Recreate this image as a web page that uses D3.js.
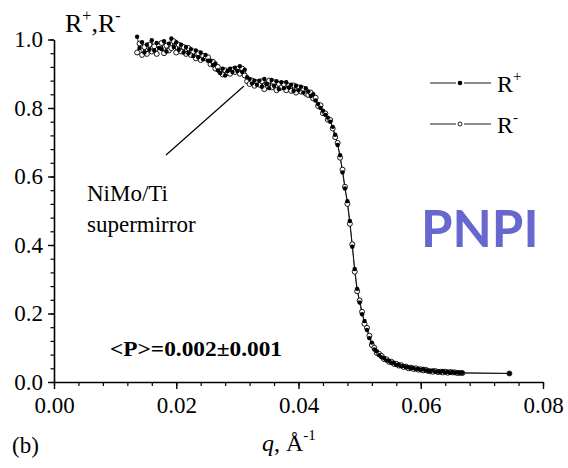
<!DOCTYPE html>
<html>
<head>
<meta charset="utf-8">
<script src="https://cdn.jsdelivr.net/npm/d3@7"></script>
<style>
  html, body { margin: 0; padding: 0; background: #fff; }
  svg { display: block; }
  text { font-family: "Liberation Serif", "Times New Roman", serif; fill: #000; }
</style>
</head>
<body>
<svg id="chart" width="568" height="468"></svg>
<script>
// Momentum transfer q (1/Å), shared by both polarisation channels
const q = [
  0.0136,0.0140,0.0144,0.0148,0.0152,0.0156,0.0160,0.0164,0.0168,0.0172,
  0.0176,0.0180,0.0184,0.0188,0.0192,0.0196,0.0200,0.0204,0.0208,0.0212,
  0.0216,0.0220,0.0224,0.0228,0.0232,0.0236,0.0240,0.0244,0.0248,0.0252,
  0.0256,0.0260,0.0264,0.0268,0.0272,0.0276,0.0280,0.0284,0.0288,0.0292,
  0.0296,0.0300,0.0304,0.0308,0.0312,0.0316,0.0320,0.0324,0.0328,0.0332,
  0.0336,0.0340,0.0344,0.0348,0.0352,0.0356,0.0360,0.0364,0.0368,0.0372,
  0.0376,0.0380,0.0384,0.0388,0.0392,0.0396,0.0400,0.0404,0.0408,0.0412,
  0.0416,0.0420,0.0424,0.0428,0.0432,0.0436,0.0440,0.0444,0.0448,0.0452,
  0.0456,0.0460,0.0464,0.0468,0.0472,0.0476,0.0480,0.0484,0.0488,0.0492,
  0.0496,0.0500,0.0504,0.0508,0.0512,0.0516,0.0520,0.0524,0.0528,0.0532,
  0.0536,0.0540,0.0544,0.0548,0.0552,0.0556,0.0560,0.0564,0.0568,0.0572,
  0.0576,0.0580,0.0584,0.0588,0.0592,0.0596,0.0600,0.0604,0.0608,0.0612,
  0.0616,0.0620,0.0624,0.0628,0.0632,0.0636,0.0640,0.0644,0.0648,0.0652,
  0.0656,0.0660,0.0664,0.0668,0.0745
];

// Reflectivity for spin-up neutrons (R+)
const rPlus = [
  1.008,0.975,0.992,0.962,0.985,0.970,0.998,0.968,0.990,0.975,
  0.972,0.995,0.965,0.988,1.003,0.978,0.992,0.970,0.985,0.962,
  0.978,0.960,0.972,0.952,0.968,0.948,0.962,0.942,0.955,0.938,
  0.938,0.925,0.930,0.910,0.902,0.915,0.895,0.908,0.915,0.905,
  0.918,0.908,0.922,0.905,0.912,0.890,0.885,0.872,0.880,0.868,
  0.880,0.862,0.885,0.870,0.858,0.882,0.865,0.878,0.855,0.875,
  0.858,0.875,0.860,0.868,0.850,0.865,0.852,0.862,0.845,0.858,
  0.848,0.835,0.840,0.822,0.812,0.800,0.792,0.780,0.772,0.760,
  0.745,0.722,0.692,0.662,0.612,0.565,0.528,0.470,0.395,0.330,
  0.272,0.232,0.198,0.178,0.152,0.128,0.115,0.095,0.090,0.078,
  0.072,0.070,0.063,0.062,0.056,0.056,0.050,0.051,0.046,0.047,
  0.043,0.043,0.040,0.041,0.037,0.039,0.035,0.038,0.034,0.033,
  0.032,0.034,0.030,0.031,0.029,0.032,0.028,0.030,0.027,0.029,
  0.027,0.028,0.026,0.027,0.025
];

// Reflectivity for spin-down neutrons (R-)
const rMinus = [
  0.962,0.988,0.955,0.978,0.958,0.985,0.965,0.980,0.958,0.982,
  0.990,0.960,0.982,0.968,0.975,0.995,0.962,0.985,0.965,0.978,
  0.958,0.975,0.955,0.965,0.945,0.960,0.940,0.952,0.945,0.948,
  0.928,0.935,0.915,0.920,0.905,0.898,0.910,0.902,0.900,0.912,
  0.905,0.915,0.900,0.915,0.895,0.878,0.870,0.880,0.865,0.875,
  0.868,0.878,0.855,0.872,0.880,0.860,0.875,0.852,0.870,0.860,
  0.870,0.852,0.865,0.850,0.866,0.845,0.860,0.848,0.856,0.842,
  0.838,0.845,0.828,0.830,0.806,0.808,0.785,0.784,0.766,0.765,
  0.740,0.715,0.698,0.655,0.620,0.570,0.520,0.462,0.402,0.322,
  0.265,0.238,0.205,0.170,0.158,0.135,0.108,0.100,0.085,0.082,
  0.076,0.067,0.066,0.059,0.059,0.053,0.053,0.048,0.049,0.044,
  0.045,0.040,0.042,0.038,0.040,0.036,0.037,0.034,0.036,0.032,
  0.031,0.030,0.032,0.029,0.030,0.028,0.030,0.027,0.029,0.028,
  0.028,0.026,0.027,0.026,0.025
];

const xTicks = [0.00, 0.02, 0.04, 0.06, 0.08];
const yTicks = [0.0, 0.2, 0.4, 0.6, 0.8, 1.0];
const xMinorTicks = d3.range(0, 0.0801, 0.004);
const yMinorTicks = d3.range(0, 1.001, 0.04);

const SERIF = "Liberation Serif, Times New Roman, serif";
const svg = d3.select("#chart");

const x = d3.scaleLinear().domain([0, 0.08]).range([54, 543]);
const y = d3.scaleLinear().domain([0, 1]).range([382, 39.5]);

// minor ticks
svg.append("g")
  .attr("transform", "translate(0,382)")
  .call(d3.axisBottom(x).tickValues(xMinorTicks).tickSize(4).tickFormat(""))
  .call(g => g.select(".domain").remove())
  .selectAll("line").attr("stroke-width", 1.2);
svg.append("g")
  .attr("transform", "translate(54,0)")
  .call(d3.axisLeft(y).tickValues(yMinorTicks).tickSize(3.5).tickFormat(""))
  .call(g => g.select(".domain").remove())
  .selectAll("line").attr("stroke-width", 1.2);

// major axes
const xAxis = svg.append("g")
  .attr("transform", "translate(0,382)")
  .call(d3.axisBottom(x).tickValues(xTicks).tickSize(7).tickSizeOuter(0)
        .tickFormat(d3.format(".2f")).tickPadding(8));
const yAxis = svg.append("g")
  .attr("transform", "translate(54,0)")
  .call(d3.axisLeft(y).tickValues(yTicks).tickSize(6).tickSizeOuter(0)
        .tickFormat(d3.format(".1f")).tickPadding(5));

[xAxis, yAxis].forEach(g => {
  g.attr("font-family", SERIF).attr("font-size", 23);
  g.select(".domain").attr("stroke-width", 1.6);
  g.selectAll(".tick line").attr("stroke-width", 1.4);
  g.selectAll(".tick text")
    .attr("font-family", SERIF)
    .attr("font-size", 23);
});

// connecting lines
const line = d3.line().x(d => x(d[0])).y(d => y(d[1]));
const plusPts = q.map((v, i) => [v, rPlus[i]]);
const minusPts = q.map((v, i) => [v, rMinus[i]]);

svg.append("path").datum(minusPts)
  .attr("d", line).attr("fill", "none")
  .attr("stroke", "#000").attr("stroke-width", 0.8);
svg.append("path").datum(plusPts)
  .attr("d", line).attr("fill", "none")
  .attr("stroke", "#000").attr("stroke-width", 0.8);

// R- : open circles
svg.append("g").selectAll("circle").data(minusPts).join("circle")
  .attr("cx", d => x(d[0])).attr("cy", d => y(d[1]))
  .attr("r", 2.5).attr("fill", "#fff")
  .attr("stroke", "#000").attr("stroke-width", 0.9);

// R+ : filled circles
svg.append("g").selectAll("circle").data(plusPts).join("circle")
  .attr("cx", d => x(d[0])).attr("cy", d => y(d[1]))
  .attr("r", 2.2).attr("fill", "#000");

// y axis title R+,R-
const yt = svg.append("text").attr("x", 65).attr("y", 32).style("font-size", "26px");
yt.append("tspan").text("R");
yt.append("tspan").attr("dy", -11).style("font-size", "16px").text("+");
yt.append("tspan").attr("dy", 11).text(",R");
yt.append("tspan").attr("dy", -11).style("font-size", "16px").text("-");

// x axis title q, Å^-1
const xt = svg.append("text").attr("x", 262).attr("y", 451).style("font-size", "24px");
xt.append("tspan").style("font-style", "italic").text("q");
xt.append("tspan").text(", Å");
xt.append("tspan").attr("dy", -11).style("font-size", "15px").text("-1");

// panel label
svg.append("text").attr("x", 12).attr("y", 453).style("font-size", "23px").text("(b)");

// legend: line broken around the symbol
const legend = [
  { label: "+", filled: true, yPos: 83 },
  { label: "-", filled: false, yPos: 124 }
];
legend.forEach(L => {
  [[430, 456], [464, 491]].forEach(([a, b]) => {
    svg.append("line").attr("x1", a).attr("x2", b)
      .attr("y1", L.yPos).attr("y2", L.yPos)
      .attr("stroke", "#000").attr("stroke-width", 0.9);
  });
  svg.append("circle").attr("cx", 460).attr("cy", L.yPos)
    .attr("r", L.filled ? 2.3 : 2.0)
    .attr("fill", L.filled ? "#000" : "#fff")
    .attr("stroke", "#000").attr("stroke-width", L.filled ? 0 : 0.9);
  const t = svg.append("text").attr("x", 497).attr("y", L.yPos + 9).style("font-size", "24px");
  t.append("tspan").text("R");
  t.append("tspan").attr("dy", -11).style("font-size", "15px").text(L.label);
});

// annotation
svg.append("line").attr("x1", 166).attr("y1", 155).attr("x2", 244).attr("y2", 86)
  .attr("stroke", "#000").attr("stroke-width", 1.2);
svg.append("text").attr("x", 87).attr("y", 201).style("font-size", "23px").text("NiMo/Ti");
svg.append("text").attr("x", 87).attr("y", 232).style("font-size", "23px").text("supermirror");

svg.append("text").attr("x", 110).attr("y", 356)
  .style("font-size", "21px").style("font-weight", "bold")
  .attr("textLength", 172).attr("lengthAdjust", "spacingAndGlyphs")
  .text("<P>=0.002±0.001");

// lab logo
svg.append("text").attr("x", 421).attr("y", 247)
  .style("font-family", "Lato, 'DejaVu Sans', sans-serif")
  .style("font-weight", "bold").style("font-size", "51px")
  .style("fill", "#6767cf")
  .text("PNPI");
</script>
</body>
</html>
